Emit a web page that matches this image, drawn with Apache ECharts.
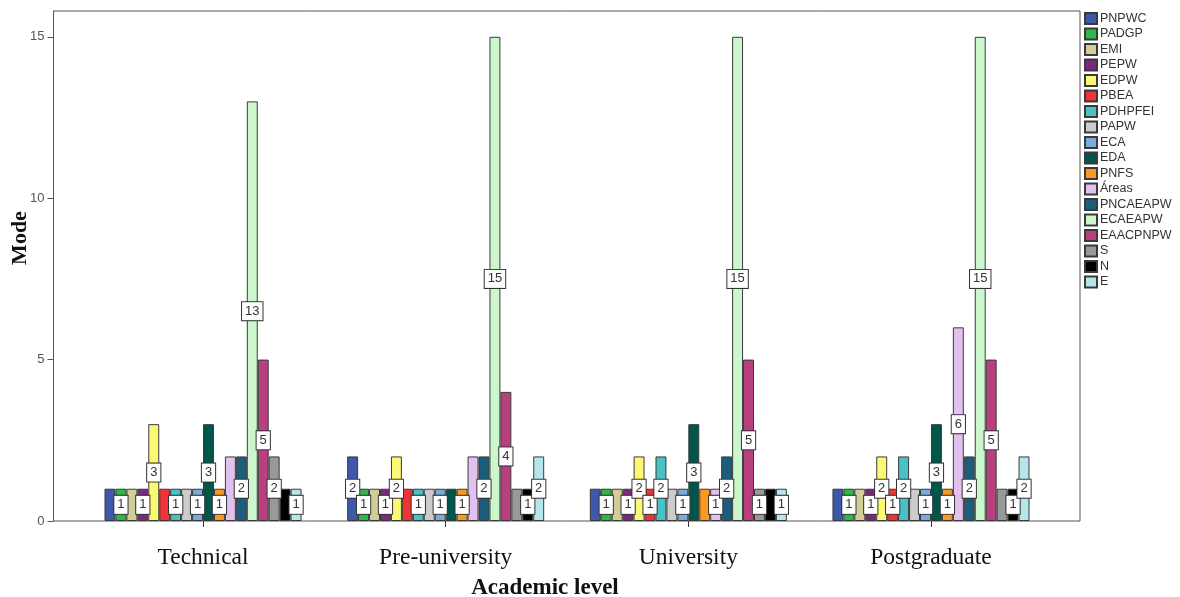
<!DOCTYPE html>
<html>
<head>
<meta charset="utf-8">
<script src="https://cdn.jsdelivr.net/npm/echarts@6/dist/echarts.min.js"></script>
<style>html,body{margin:0;padding:0;background:#fff;}#c{width:1180px;height:597px;}</style>
</head>
<body>
<div id="c"></div>
<script>
const categories = ['Technical', 'Pre-university', 'University', 'Postgraduate'];
const seriesNames = ['PNPWC','PADGP','EMI','PEPW','EDPW','PBEA','PDHPFEI','PAPW','ECA','EDA','PNFS','Áreas','PNCAEAPW','ECAEAPW','EAACPNPW','S','N','E'];
const seriesColors = ['#3E58AC','#2EB848','#D3CE97','#7C287D','#FBF873','#EF3338','#48C2C5','#CCCCCC','#7BAADC','#01564B','#F89A1F','#E2C1EE','#1B5E7B','#CCF7CC','#B93F7F','#999999','#000000','#B4E6EA'];

// mode values per academic level, in series order
const technical     = [1,1,1,1,3,1,1,1,1,3,1,2,2,13,5,2,1,1];
const preUniversity = [2,1,1,1,2,1,1,1,1,1,1,2,2,15,4,1,1,2];
const university    = [1,1,1,1,2,1,2,1,1,3,1,1,2,15,5,1,1,1];
const postgraduate  = [1,1,1,1,2,1,2,1,1,3,1,6,2,15,5,1,1,2];

// which bars carry a visible value label (1 = shown)
const technicalLabels     = [0,1,0,1,1,0,1,0,1,1,1,0,1,1,1,1,0,1];
const preUniversityLabels = [1,1,0,1,1,0,1,0,1,0,1,0,1,1,1,0,1,1];
const universityLabels    = [0,1,0,1,1,1,1,0,1,1,0,1,1,1,1,1,0,1];
const postgraduateLabels  = [0,1,0,1,1,1,1,0,1,1,1,1,1,1,1,0,1,1];

const yTicks = [0, 5, 10, 15];

const levels = [technical, preUniversity, university, postgraduate];
const levelLabels = [technicalLabels, preUniversityLabels, universityLabels, postgraduateLabels];

const series = seriesNames.map((name, si) => ({
  name: name,
  type: 'bar',
  xAxisIndex: 1,
  yAxisIndex: 1,
  barGap: '0%',
  barCategoryGap: '18.8%',
  itemStyle: { color: seriesColors[si], borderColor: '#3a3a3a', borderWidth: 1 },
  label: {
    position: 'inside',
    fontFamily: 'Liberation Sans, Arial, sans-serif',
    fontSize: 13,
    color: '#333',
    backgroundColor: '#ffffff',
    borderColor: '#333',
    borderWidth: 1,
    padding: [3, 3, 2, 3]
  },
  emphasis: { disabled: true },
  data: levels.map((lv, ci) => ({
    value: lv[si],
    label: { show: levelLabels[ci][si] === 1 }
  }))
}));

const chart = echarts.init(document.getElementById('c'), null, { renderer: 'canvas' });
chart.setOption({
  animation: false,
  backgroundColor: '#ffffff',
  grid: [
    { left: 53.5, right: 100, top: 11, bottom: 76, show: true, borderColor: '#555', borderWidth: 1, backgroundColor: 'transparent' },
    { left: 81.7, right: 127.7, top: 11, bottom: 76 }
  ],
  xAxis: [
    { gridIndex: 0, type: 'value', show: false, min: 0, max: 1 },
    {
      gridIndex: 1, type: 'category', data: categories,
      axisLine: { show: false },
      axisTick: { show: true, alignWithLabel: true, length: 6, lineStyle: { color: '#333' } },
      axisLabel: { margin: 25, fontFamily: 'Liberation Serif, Times New Roman, serif', fontSize: 23.5, color: '#111' }
    }
  ],
  yAxis: [
    {
      gridIndex: 0, type: 'value', min: 0, max: 15.8, interval: 5,
      axisLine: { show: true, lineStyle: { color: '#555' } },
      axisTick: { show: true, length: 6, customValues: yTicks, lineStyle: { color: '#555' } },
      axisLabel: { margin: 9, customValues: yTicks, fontFamily: 'Liberation Sans, Arial, sans-serif', fontSize: 13, color: '#555' },
      splitLine: { show: false }
    },
    { gridIndex: 1, type: 'value', min: 0, max: 15.8, show: false, splitLine: { show: false } }
  ],
  legend: {
    orient: 'vertical',
    left: 1079,
    top: 7,
    itemWidth: 12,
    itemHeight: 11,
    itemGap: 2.5,
    icon: 'rect',
    selectedMode: false,
    textStyle: { fontFamily: 'Liberation Sans, Arial, sans-serif', fontSize: 12.5, lineHeight: 13, color: '#333', padding: [0, 0, 0, -2] },
    data: seriesNames
  },
  graphic: [
    { type: 'text', x: 545, y: 588, style: { text: 'Academic level', font: 'bold 23px "Liberation Serif", "Times New Roman", serif', fill: '#111', textAlign: 'center', textVerticalAlign: 'middle' } },
    { type: 'text', x: 20, y: 238, rotation: Math.PI / 2, style: { text: 'Mode', font: 'bold 22px "Liberation Serif", "Times New Roman", serif', fill: '#111', textAlign: 'center', textVerticalAlign: 'middle' } }
  ],
  series: series
});
</script>
</body>
</html>
